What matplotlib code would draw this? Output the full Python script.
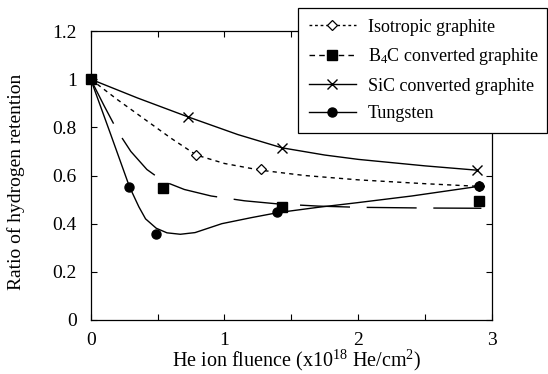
import matplotlib
matplotlib.use("Agg")
import matplotlib.pyplot as plt
from matplotlib.lines import Line2D

plt.rcParams['font.family'] = ['Liberation Serif', 'DejaVu Serif']
plt.rcParams['mathtext.fontset'] = 'custom'
plt.rcParams['mathtext.rm'] = 'Liberation Serif'
plt.rcParams['mathtext.default'] = 'regular'

# measured points
iso_x = [0.0, 0.79, 1.27, 2.90]
iso_y = [1.0, 0.685, 0.625, 0.555]
b4c_x = [0.0, 0.54, 1.43, 2.90]
b4c_y = [1.0, 0.548, 0.468, 0.495]
sic_x = [0.0, 0.73, 1.43, 2.89]
sic_y = [1.0, 0.843, 0.713, 0.622]
w_x = [0.0, 0.29, 0.49, 1.39, 2.90]
w_y = [1.0, 0.553, 0.358, 0.447, 0.555]

# points
iso_fit_x = [0.0, 0.2, 0.4, 0.6, 0.79, 1.0, 1.27, 1.6, 2.0, 2.5, 2.90]
iso_fit_y = [1.0, 0.915, 0.835, 0.755, 0.685, 0.65, 0.622, 0.600, 0.582, 0.566, 0.555]
b4c_fit_x = [0.0, 0.1, 0.2, 0.3, 0.42, 0.54, 0.7, 0.9, 1.15, 1.4, 1.7, 2.0, 2.5, 2.92]
b4c_fit_y = [1.0, 0.89, 0.785, 0.70, 0.625, 0.577, 0.542, 0.515, 0.495, 0.482, 0.473, 0.468, 0.465, 0.464]
sic_fit_x = [0.0, 0.35, 0.73, 1.1, 1.43, 1.75, 2.0, 2.5, 2.89]
sic_fit_y = [1.0, 0.922, 0.843, 0.77, 0.715, 0.685, 0.667, 0.640, 0.622]
w_fit_x = [0.0, 0.15, 0.29, 0.36, 0.41, 0.49, 0.57, 0.67, 0.78, 0.98, 1.2, 1.40, 1.7, 1.99, 2.4, 2.90]
w_fit_y = [1.0, 0.77, 0.553, 0.47, 0.42, 0.381, 0.362, 0.356, 0.363, 0.40, 0.425, 0.446, 0.468, 0.487, 0.515, 0.555]

x_ticks = [0, 0.5, 1, 1.5, 2, 2.5, 3]
x_labels = ['0', '', '1', '', '2', '', '3']
y_ticks = [0, 0.2, 0.4, 0.6, 0.8, 1.0, 1.2]
y_labels = ['0', '0.2', '0.4', '0.6', '0.8', '1', '1.2']

fig = plt.figure(figsize=(5.48, 3.74), dpi=100)
ax = fig.add_axes([0.1655, 0.1444, 0.7325, 0.7726])

lw = 1.0
ax.plot(iso_fit_x, iso_fit_y, color='black', lw=lw, linestyle=(0, (3, 3)))
ax.plot(b4c_fit_x, b4c_fit_y, color='black', lw=lw, linestyle=(0, (36, 12)))
ax.plot(sic_fit_x, sic_fit_y, color='black', lw=lw)
ax.plot(w_fit_x, w_fit_y, color='black', lw=lw)

ax.plot(iso_x, iso_y, 'D', ms=5, mfc='white', mec='black', mew=0.9, clip_on=False, zorder=5)
ax.plot(sic_x, sic_y, 'x', ms=7, color='black', mew=1.0, clip_on=False, zorder=5)
ax.plot(w_x, w_y, 'o', ms=6.5, color='black', clip_on=False, zorder=5)
ax.plot(b4c_x, b4c_y, 's', ms=7, color='black', clip_on=False, zorder=6)

ax.set_xlim(0, 3)
ax.set_ylim(0, 1.2)
ax.set_xticks(x_ticks)
ax.set_xticklabels(x_labels)
ax.set_yticks(y_ticks)
ax.set_yticklabels(y_labels)
ax.tick_params(direction='in', length=4, width=0.8, top=True, right=True,
               labelsize=14)
ax.tick_params(axis='y', pad=10)
ax.tick_params(axis='x', pad=9)
for s in ax.spines.values():
    s.set_linewidth(0.9)

ax.set_xlabel(r'He ion fluence (x10$^{18}$ He/cm$^{2}$)', fontsize=14.5)
ax.set_ylabel('Ratio of hydrogen retention', fontsize=14)
ax.xaxis.set_label_coords(0.512, -0.097)
ax.yaxis.set_label_coords(-0.164, 0.478)

handles = [
    Line2D([], [], color='black', lw=lw, linestyle=(0, (2, 2)), marker='D',
           ms=5, mfc='white', mec='black', mew=0.9),
    Line2D([], [], color='black', lw=lw, linestyle=(0, (4, 3)), marker='s', ms=7),
    Line2D([], [], color='black', lw=lw, marker='x', ms=7, mew=1.0),
    Line2D([], [], color='black', lw=lw, marker='o', ms=6.5),
]
labels = ['Isotropic graphite', r'B$_{4}$C converted graphite',
          'SiC converted graphite', 'Tungsten']
leg = fig.legend(handles, labels, loc='upper left',
                 bbox_to_anchor=(0.544, 0.647, 0.454, 0.332), mode='expand',
                 borderaxespad=0, fontsize=13, frameon=True, fancybox=False,
                 framealpha=1, edgecolor='black', handlelength=2.6,
                 handletextpad=0.65, labelspacing=0.58, borderpad=0.6,
                 numpoints=1)
leg.get_frame().set_linewidth(0.9)
leg.set_zorder(10)

fig.savefig('out.png', dpi=100)
